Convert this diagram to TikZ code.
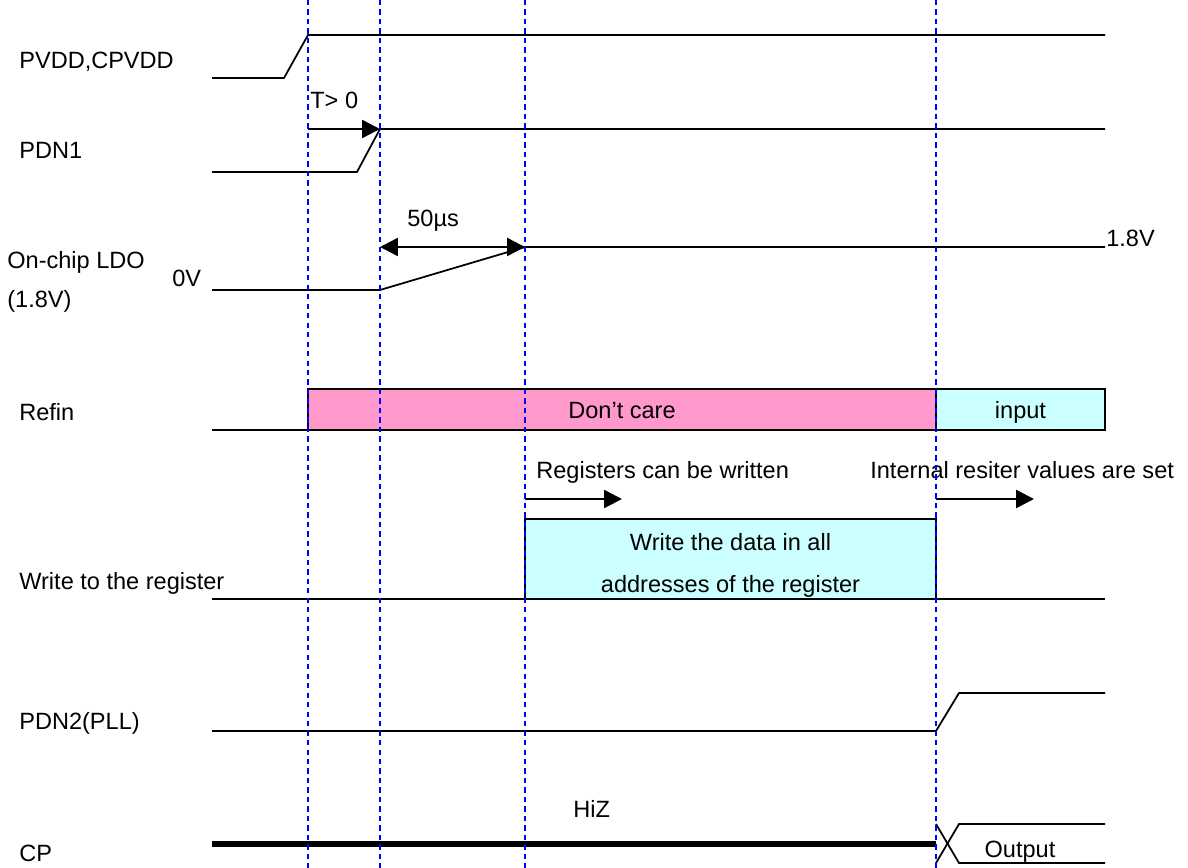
\documentclass[tikz,border=0pt]{standalone}
\usepackage{fontspec}
\setmainfont{Liberation Sans}
\usetikzlibrary{arrows.meta}

\definecolor{carepink}{HTML}{FF99CC}
\definecolor{inputcyan}{HTML}{CCFFFF}

\begin{document}
\begin{tikzpicture}[
	x=0.02cm,
	y=-0.02cm,
	signal/.style={
		draw=black,
		line width=1pt
	},
	busline/.style={
		draw=black,
		line width=3.4pt
	},
	marker/.style={
		draw=blue,
		line width=1.3pt,
		dash pattern=on 3pt off 2.4pt
	},
	timing/.style={
		line width=1.4pt,
		-{Triangle[length=0.36cm,width=0.36cm]}
	},
	sigtext/.style={
		anchor=base west,
		inner sep=0pt,
		font=\fontsize{13.4}{16}\selectfont
	},
	databox/.style={
		rectangle,
		draw=black,
		line width=1pt,
		inner sep=0pt,
		align=center,
		font=\fontsize{13.4}{24.4}\selectfont
	},
	levelbox/.style={
		databox,
		text height=9.7pt,
		text depth=0pt,
		minimum height=0.82cm
	},
]
\useasboundingbox (0,0) rectangle (1188,868);

% Signal names
\node[sigtext] (pvdd) at (19,69) {PVDD,CPVDD};
\node[sigtext] (pdn1) at (19,159) {PDN1};
\node[sigtext] (ldo) at (7,269) {On-chip LDO};
\node[sigtext] (ldov) at (7,308) {(1.8V)};
\node[sigtext] (refin) at (19,421) {Refin};
\node[sigtext] (wreg) at (19,589) {Write to the register};
\node[sigtext] (pdn2) at (19,729) {PDN2(PLL)};
\node[sigtext] (cp) at (19,861) {CP};

% PVDD,CPVDD
\draw[signal] (212,78) -- (284,78) -- (308,35) -- (1105,35);

% PDN1
\draw[signal] (212,172) -- (357,172) -- (380,129) -- (1105,129);
\coordinate (tzero0) at (308,129);
\coordinate (tzero1) at (380,129);
\draw[timing] (tzero0) -- (tzero1);
\node[sigtext] (tzero) at (310,109) {T> 0};

% On-chip LDO
\draw[signal] (212,290) -- (380,290) -- (525,247) -- (1105,247);
\coordinate (ramp0) at (380,247);
\coordinate (ramp1) at (525,247);
\draw[timing,{Triangle[length=0.36cm,width=0.36cm]}-{Triangle[length=0.36cm,width=0.36cm]}] (ramp0) -- (ramp1);
\node[sigtext] (ramp) at (407,227) {50µs};
\node[sigtext] (zerov) at (172,287) {0V};
\node[sigtext] (highv) at (1106,247) {1.8V};

% Refin
\draw[signal] (212,430) -- (308,430);
\node[levelbox,fill=carepink,minimum width=12.56cm] (dontcare) at (622,409.5) {Don’t care};
\node[levelbox,fill=inputcyan,minimum width=3.38cm] (refinput) at (1020.5,409.5) {input};

% Write to the register
\draw[signal] (212,599) -- (525,599);
\draw[signal] (936,599) -- (1105,599);
\node[databox,fill=inputcyan,minimum width=8.22cm,minimum height=1.6cm] (wbox) at (730.5,559) {\rule{0pt}{17pt}Write the data in all\\addresses of the register};
\coordinate (wr0) at (525,499);
\coordinate (wr1) at (622,499);
\draw[timing] (wr0) -- (wr1);
\node[sigtext] (wrtext) at (536,479) {Registers can be written};
\coordinate (set0) at (936,499);
\coordinate (set1) at (1034,499);
\draw[timing] (set0) -- (set1);
\node[sigtext] (settext) at (870,479) {Internal resiter values are set};

% PDN2(PLL)
\draw[signal] (212,731) -- (936,731) -- (959,693) -- (1105,693);

% CP
\draw[busline] (212,844) -- (936,844);
\draw[signal] (936,824) -- (959,863) -- (1105,863);
\draw[signal] (936,863) -- (959,824) -- (1105,824);
\node[sigtext] (hiz) at (573,817) {HiZ};
\node[sigtext,anchor=base] (cpout) at (1020,857) {Output};

% Time markers
\foreach \x in {308, 380, 525, 936}
	\draw[marker] (\x,0) -- (\x,868);

\end{tikzpicture}
\end{document}
